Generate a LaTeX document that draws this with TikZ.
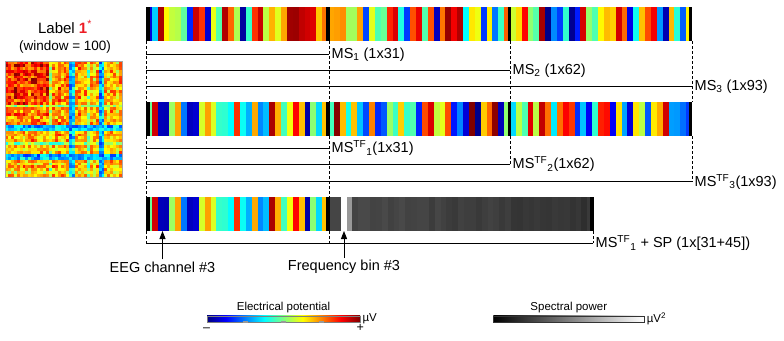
\documentclass[tikz,border=0pt]{standalone}
\usepackage{fontspec}
\setmainfont{Liberation Sans}
\usetikzlibrary{positioning,arrows.meta}

\definecolor{labred}{RGB}{237,28,36}
\pgfdeclarehorizontalshading{jetbar}{100bp}{rgb(0bp)=(0,0,.5); rgb(25bp)=(0,0,.5); rgb(31.25bp)=(0,0,1); rgb(43.75bp)=(0,1,1); rgb(56.25bp)=(1,1,0); rgb(68.75bp)=(1,0,0); rgb(75bp)=(.5,0,0); rgb(100bp)=(.5,0,0)}

% jet colour map, value 0..1 -> colour jc
\newcommand{\jetcol}[1]{%
  \pgfmathsetmacro\jr{max(0,min(1,1.5-abs(4*#1-3)))}%
  \pgfmathsetmacro\jg{max(0,min(1,1.5-abs(4*#1-2)))}%
  \pgfmathsetmacro\jb{max(0,min(1,1.5-abs(4*#1-1)))}%
  \definecolor{jc}{rgb}{\jr,\jg,\jb}}

\begin{document}
\begin{tikzpicture}[x=1pt,y=-1pt]
            \tikzstyle{bar}=[anchor=north west,inner sep=0pt,outer sep=0pt,minimum height=34pt]
            \tikzstyle{ms label}=[anchor=west,inner sep=2.5pt,font=\fontsize{14.5}{17}\selectfont]
            \tikzstyle{arrow label}=[inner sep=2pt,font=\fontsize{14.5}{17}\selectfont]
            \tikzstyle{guide}=[dash pattern=on 3pt off 2pt,line width=0.7pt]
            \tikzstyle{bracket}=[line width=1pt]
            \tikzstyle{pointer}=[line width=1pt,-{Triangle[width=6pt,length=8pt]}]
            \tikzstyle{cbar}=[inner sep=0pt,minimum height=6.5pt,draw=gray,line width=0.6pt]
            \tikzstyle{cb text}=[inner sep=1pt,font=\fontsize{11.5}{13}\selectfont]
            \tikzstyle{cb sign}=[inner sep=1pt,text height=8pt,text depth=1pt,font=\fontsize{12.5}{14}\selectfont]
            \useasboundingbox (0,0) rectangle (784,340);
            \def\sw{5.871}

            % connectivity matrix
            \def\alist{{0.85,0.92,0.82,0.9,0.95,0.8,0.9,0.86,0.78,0.9,0.93,0.84,0.88,0.8,0.9,0.55,0.75,0.72,0.8,0.7,0.74,0.78,0.3,0.36,0.72,0.76,0.68,0.74,0.5,0.7,0.66,0.72,0.28,0.33,0.7,0.66,0.74,0.7,0.62,0.72}}
            \pgfmathsetseed{11}
            \foreach \i in {0,...,39}{
              \foreach \j in {0,...,39}{
                \pgfmathsetmacro\v{max(0,min(1,min(\alist[\i],\alist[\j])+0.24*(rnd-0.5)))}
                \jetcol{\v}
                \fill[jc] ({5+\i*2.925},{61+\j*2.9}) rectangle ++(2.98,2.95);
              }}
            \draw[gray!70,line width=0.8pt] (5,61) rectangle (122,177);
            \node[font=\fontsize{15}{18}\selectfont] (title) at (65,27) {Label \textcolor{labred}{\textbf{1}\textsuperscript{*}}};
            \node[font=\fontsize{13.5}{16}\selectfont] (window) at (65,47.5) {(window = 100)};

            % feature vectors
            \node[bar,minimum width=546pt] (bar1) at (146,7) {};
            \node[bar,minimum width=546pt] (bar2) at (146,102) {};
            \node[bar,minimum width=447pt] (bar3) at (146,197) {};
            \pgfmathsetseed{3}
            \foreach \k in {0,...,92}{
              \pgfmathsetmacro\v{rnd}\jetcol{\v}
              \fill[jc] ({146+\k*\sw},7) rectangle ++({\sw+0.3},34);
            }
            \pgfmathsetseed{5}
            \foreach \k in {0,...,92}{
              \pgfmathsetmacro\v{rnd}\jetcol{\v}
              \fill[jc] ({146+\k*\sw},102) rectangle ++({\sw+0.3},34);
            }
            \pgfmathsetseed{5}
            \foreach \k in {0,...,30}{
              \pgfmathsetmacro\v{rnd}\jetcol{\v}
              \fill[jc] ({146+\k*\sw},197) rectangle ++({\sw+0.3},34);
            }
            \pgfmathsetseed{8}
            \foreach \k in {0,...,44}{
              \pgfmathsetmacro\g{\k==2 ? 1 : (\k==3 ? 0.6 : (\k<2 ? 0.27 : 0.29-0.09*\k/44+0.05*(rnd-0.5)))}
              \definecolor{gc}{gray}{\g}
              \fill[gc] ({329+\k*\sw},197) rectangle ++({\sw+0.3},34);
            }
            \foreach \x in {146,326,507.5,688.5} {
              \fill (\x,7) rectangle ++(3.5,34);
              \fill (\x,102) rectangle ++(3.5,34);
            }
            \foreach \x in {146,326,590} \fill (\x,197) rectangle ++(3.5,34);

            % sub-vector labels
            \node[ms label] (ms1) at (329,54.3) {MS\textsubscript{1} (1x31)};
            \node[ms label] (ms2) at (510,70.7) {MS\textsubscript{2} (1x62)};
            \node[ms label] (ms3) at (692,86.3) {MS\textsubscript{3} (1x93)};
            \node[ms label] (mt1) at (329,148.3) {MS\textsuperscript{TF}\textsubscript{1}(1x31)};
            \node[ms label] (mt2) at (510,164.3) {MS\textsuperscript{TF}\textsubscript{2}(1x62)};
            \node[ms label] (mt3) at (692,181.7) {MS\textsuperscript{TF}\textsubscript{3}(1x93)};
            \node[ms label] (sp) at (593,243.3) {MS\textsuperscript{TF}\textsubscript{1} + SP (1x[31+45])};

            \coordinate (k0) at (146,0);
            \coordinate (k1) at (329,0);
            \coordinate (k2) at (510,0);
            \coordinate (k3) at (692,0);
            \coordinate (k4) at (593,0);
            \foreach \c in {k0,k1,k2,k3} \draw[guide] (bar1.south -| \c) -- (bar2.north -| \c);
            \foreach \c in {k0,k1} {
              \draw[guide] (bar2.south -| \c) -- (bar3.north -| \c);
              \draw[guide] (bar3.south -| \c) -- (sp.west -| \c);
            }
            \draw[guide] (bar2.south -| k2) -- (mt2.west);
            \draw[guide] (bar2.south -| k3) -- (mt3.west);
            \draw[guide] (bar3.south -| k4) -- (sp.west);
            \foreach \n in {ms1,ms2,ms3,mt1,mt2,mt3,sp} \draw[bracket] (\n.west -| k0) -- (\n.west);

            % pointers
            \node[arrow label] (eeg) at (162.5,267) {EEG channel \#3};
            \node[arrow label] (fbin) at (344,267) {Frequency bin \#3};
            \draw[pointer] (eeg) -- (bar3.south -| eeg);
            \draw[pointer] (fbin) -- (bar3.south -| fbin);

            % colour bars
            \node[cbar,minimum width=153pt,shading=jetbar] (cbep) at (283.5,319.2) {};
            \foreach \t in {245,283.5,321.7} \fill[gray!80] (\t-2.5,321.2) rectangle ++(5,1.8);
            \node[cb text,above=1.5pt of cbep] (tep) {Electrical potential};
            \node[cb text,right=1pt of cbep] (uep) {µV};
            \node[cb sign,below=0pt of cbep.south west] (minus) {–};
            \node[cb sign,below=0pt of cbep.south east] (plus) {+};
            \node[cbar,minimum width=151pt,left color=black,right color=white,draw=black!80] (cbsp) at (568.8,319.2) {};
            \node[cb text,above=1.5pt of cbsp] (tsp) {Spectral power};
            \node[cb text,right=1pt of cbsp] (usp) {µV\textsuperscript{2}};
        \end{tikzpicture}
\end{document}
